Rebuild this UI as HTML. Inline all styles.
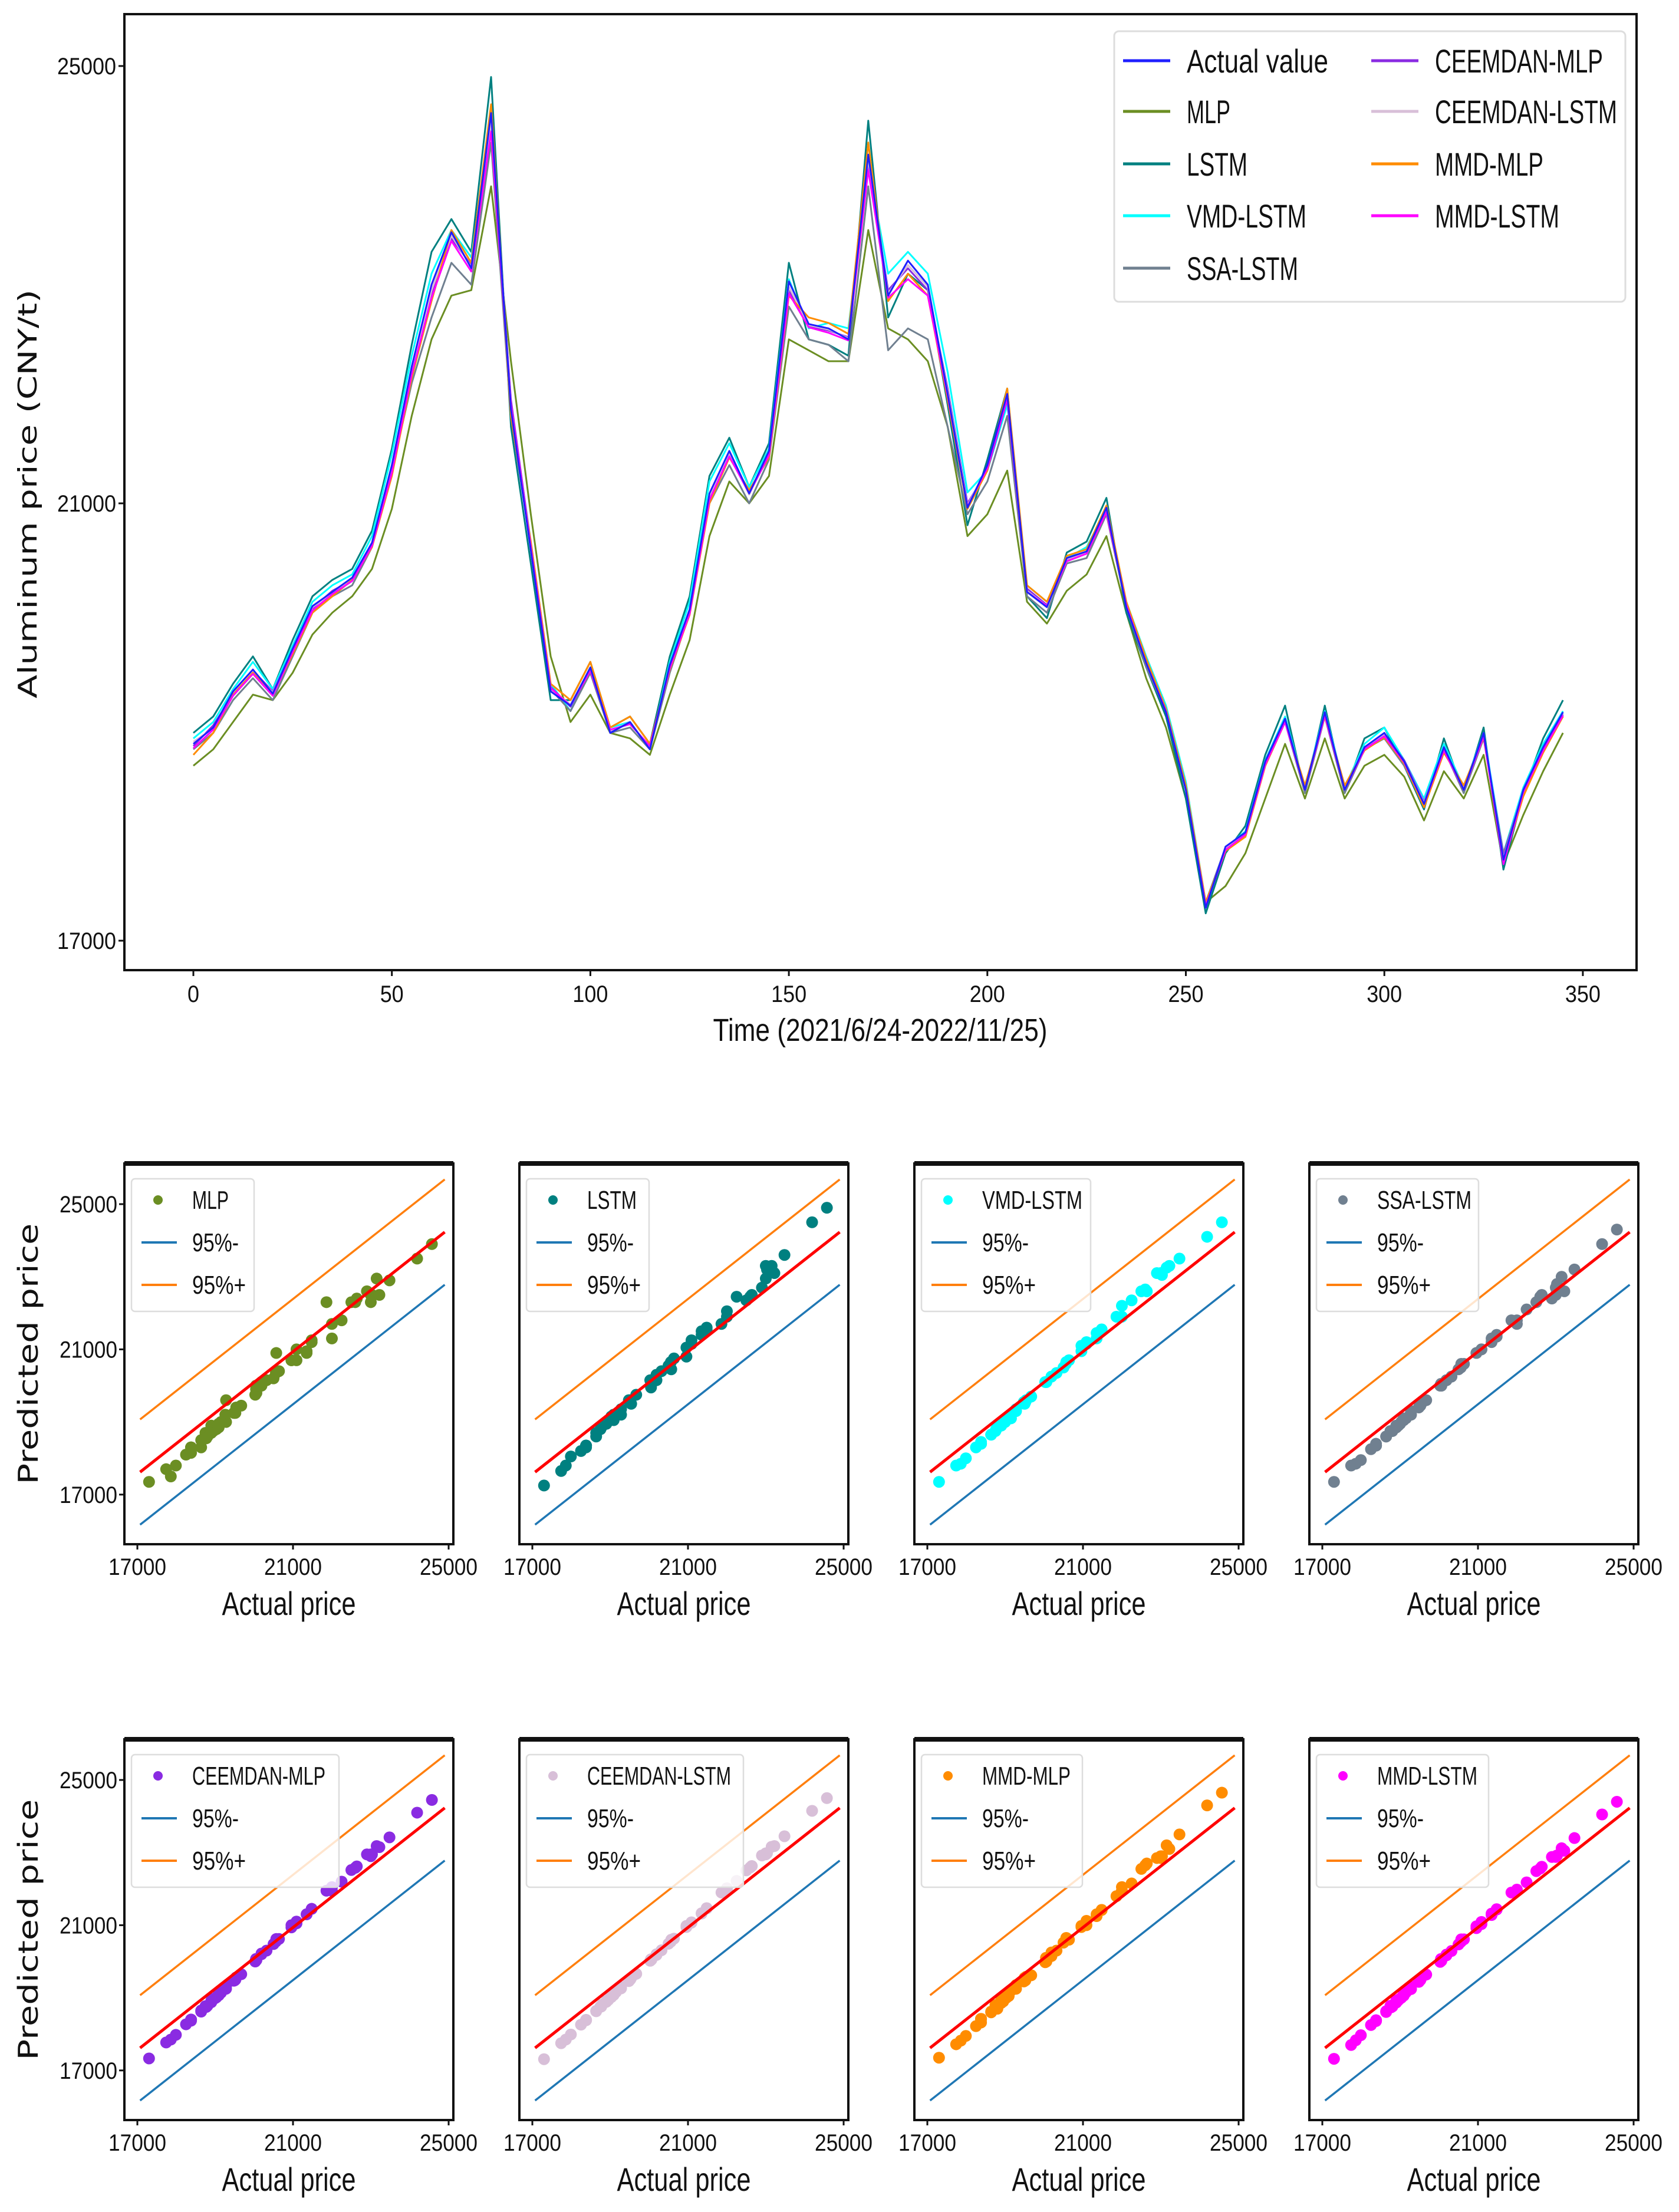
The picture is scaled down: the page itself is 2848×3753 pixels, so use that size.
<!DOCTYPE html>
<html><head><meta charset="utf-8"><style>
html,body{margin:0;padding:0;background:#fff;}
svg{display:block;}
text{font-family:"Liberation Sans Narrow","Liberation Sans",sans-serif;fill:#111;}
</style></head><body>
<svg id="fig" xmlns="http://www.w3.org/2000/svg" width="2848" height="3753" viewBox="0 0 2848 3753"></svg>
<script>
// ---------- data ----------
const timeStepActual = 5;
const actualValues = [18800,18950,19280,19480,19260,19670,20060,20190,20320,20640,21350,22250,23000,23480,23150,24570,21860,20570,19280,19150,19500,18900,19000,18750,19520,20030,21090,21480,21090,21480,23030,22640,22600,22500,24190,22900,23220,23000,22000,20960,21350,22000,20190,20050,20500,20560,20960,20050,19540,19090,18380,17300,17860,17990,18640,19030,18380,19090,18380,18770,18900,18640,18250,18770,18380,18900,17740,18380,18770,19090];
const timeStepModel = 5;
const mlpValues = [18600,18750,19000,19250,19200,19450,19800,20000,20150,20400,20950,21800,22500,22900,22950,23900,22300,20900,19600,19000,19250,18900,18850,18700,19250,19750,20700,21200,21000,21250,22500,22400,22300,22300,23500,22600,22500,22300,21700,20700,20900,21300,20100,19900,20200,20350,20700,20000,19400,18950,18300,17350,17500,17800,18300,18800,18300,18850,18300,18600,18700,18500,18100,18550,18300,18700,17700,18150,18550,18900];
const lstmValues = [18900,19050,19350,19600,19300,19750,20150,20300,20400,20750,21500,22450,23300,23600,23300,24900,21700,20450,19200,19200,19550,18950,19050,18800,19600,20150,21250,21600,21150,21550,23200,22500,22450,22350,24500,22700,23100,22950,21900,20800,21400,22050,20150,19950,20550,20650,21050,20000,19500,19050,18300,17250,17800,18050,18700,19150,18350,19150,18350,18850,18950,18600,18200,18850,18350,18950,17650,18350,18850,19200];
const vmdLstmValues = [18850,19000,19300,19550,19300,19700,20100,20250,20350,20700,21450,22350,23100,23500,23250,24500,21900,20650,19350,19100,19500,18950,19000,18750,19550,20100,21200,21550,21150,21500,23050,22600,22650,22600,24100,23100,23300,23100,22200,21100,21300,21900,20250,20100,20500,20600,20950,20100,19600,19150,18450,17350,17850,18000,18650,19050,18400,19100,18400,18800,18950,18650,18300,18800,18400,18900,17800,18400,18800,19100];
const ssaLstmValues = [18750,18900,19200,19400,19200,19600,20000,20150,20250,20600,21300,22100,22700,23200,23000,24300,21800,20600,19300,19100,19450,18900,18950,18750,19450,20000,21000,21350,21000,21400,22800,22500,22450,22300,23900,22400,22600,22500,21700,20900,21200,21800,20150,20000,20450,20500,20900,20050,19500,19100,18400,17350,17850,17950,18600,19000,18350,19050,18350,18750,18850,18600,18250,18750,18350,18850,17800,18350,18750,19050];
const ceemdanMlpValues = [18780,18970,19250,19470,19280,19650,20040,20200,20300,20620,21300,22200,22900,23420,23180,24450,21950,20620,19320,19140,19480,18920,18990,18770,19500,20000,21050,21450,21100,21450,22950,22620,22580,22520,24100,22950,23150,22950,22050,21000,21300,21950,20220,20070,20480,20550,20940,20070,19560,19110,18400,17330,17850,17980,18620,19010,18400,19070,18400,18760,18880,18650,18270,18750,18400,18880,17770,18370,18750,19070];
const ceemdanLstmValues = [18820,18940,19260,19460,19270,19660,20050,20180,20310,20630,21320,22220,22950,23450,23160,24500,21900,20600,19300,19160,19490,18910,19000,18760,19510,20020,21070,21460,21080,21470,22980,22630,22590,22510,24150,22920,23180,22980,22020,20980,21330,21970,20200,20060,20490,20550,20950,20060,19550,19100,18390,17310,17850,17990,18630,19020,18390,19080,18390,18770,18890,18640,18260,18760,18390,18890,17750,18380,18760,19080];
const mmdMlpValues = [18700,18900,19250,19450,19250,19620,20000,20150,20300,20600,21250,22150,22850,23500,23200,24650,21800,20650,19350,19200,19550,18950,19050,18800,19480,19980,21000,21420,21120,21420,22900,22700,22650,22550,24300,22850,23100,22900,21950,20950,21300,22050,20250,20100,20520,20580,20980,20100,19580,19120,18420,17350,17820,17950,18600,19000,18420,19050,18420,18740,18860,18620,18220,18720,18420,18860,17720,18320,18720,19050];
const mmdLstmValues = [18760,18930,19240,19440,19240,19640,20020,20170,20290,20610,21280,22180,22880,23400,23120,24400,21900,20610,19310,19150,19470,18930,18980,18780,19490,19990,21030,21430,21090,21440,22920,22610,22560,22490,24050,22880,23050,22900,21980,20970,21320,21960,20190,20060,20470,20540,20920,20070,19540,19100,18380,17320,17830,17970,18610,19000,18380,19060,18380,18750,18870,18630,18250,18740,18380,18870,17700,18360,18740,19060];
const topYTicks = [17000,21000,25000];
const topXTicks = [0,50,100,150,200,250,300,350];
const scatterTicks = [17000,21000,25000];
const fitLineX = [17070,24900];
const fitLineY = [17620,24230];
const bandOffset = [1450];

const models = [
 {name:'MLP',vals:mlpValues,color:'#6b8e23',lw:208,tw:62},
 {name:'LSTM',vals:lstmValues,color:'#008080',lw:208,tw:84},
 {name:'VMD-LSTM',vals:vmdLstmValues,color:'#00ffff',lw:287,tw:170},
 {name:'SSA-LSTM',vals:ssaLstmValues,color:'#708090',lw:275,tw:160},
 {name:'CEEMDAN-MLP',vals:ceemdanMlpValues,color:'#8a2be2',lw:352,tw:226},
 {name:'CEEMDAN-LSTM',vals:ceemdanLstmValues,color:'#d8bfd8',lw:368,tw:244},
 {name:'MMD-MLP',vals:mmdMlpValues,color:'#ff8c00',lw:273,tw:150},
 {name:'MMD-LSTM',vals:mmdLstmValues,color:'#ff00ff',lw:292,tw:170}
];

const NS='http://www.w3.org/2000/svg';
const svg=document.getElementById('fig');
function mk(tag,attrs,parent){const el=document.createElementNS(NS,tag);for(const k in attrs)el.setAttribute(k,attrs[k]);(parent||svg).appendChild(el);return el;}
function txt(s,attrs,parent){const el=mk('text',attrs,parent);el.textContent=s;return el;}

// ---------- top chart ----------
const T={l:211,r:2776,t:24,b:1646};
const xT=t=>328+t*6.734;
const yT=v=>112+(25000-v)*0.1855;
const topG=mk('g',{});


function series(vals,step,color,w,name){
  const p=vals.map((v,i)=>(i?'L':'M')+xT(i*step).toFixed(1)+','+yT(v).toFixed(1)).join(' ');
  const el=mk('path',{d:p,fill:'none',stroke:color,'stroke-width':w,'stroke-linejoin':'round'},topG);
  
  
}
models.forEach(m=>series(m.vals,timeStepModel,m.color,3,m.name.toLowerCase()+'-line'));
series(actualValues,timeStepActual,'#1f1fff',3,'actual-value-line');
const frame=mk('rect',{x:T.l,y:T.t,width:T.r-T.l,height:T.b-T.t,fill:'none',stroke:'#111','stroke-width':4},topG);


topYTicks.forEach(v=>{
  mk('line',{x1:T.l-10,x2:T.l,y1:yT(v),y2:yT(v),stroke:'#111','stroke-width':3},topG);
  const el=txt(String(v),{x:T.l-14,y:yT(v)+14,'text-anchor':'end','font-size':40,textLength:100,lengthAdjust:'spacingAndGlyphs'},topG);
  
  
});
topXTicks.forEach(v=>{
  mk('line',{x1:xT(v),x2:xT(v),y1:T.b,y2:T.b+10,stroke:'#111','stroke-width':3},topG);
  const s=String(v);
  const el=txt(s,{x:xT(v),y:1700,'text-anchor':'middle','font-size':40,textLength:s.length*20,lengthAdjust:'spacingAndGlyphs'},topG);
  
  
});
const xTitle=txt('Time (2021/6/24-2022/11/25)',{x:1493,y:1766,'text-anchor':'middle','font-size':54,textLength:567,lengthAdjust:'spacingAndGlyphs'},topG);


const yTitle=txt('Aluminum price (CNY/t)',{x:0,y:0,'text-anchor':'middle','font-size':44,textLength:694,lengthAdjust:'spacingAndGlyphs',transform:'translate(62,838) rotate(-90)',style:'font-family:"DejaVu Sans",sans-serif'},topG);


// legend
const lg=mk('g',{},topG);


mk('rect',{x:1890,y:53,width:867,height:459,rx:8,fill:'#fff','fill-opacity':0.85,stroke:'#ddd','stroke-width':3},lg);
const legEntries=[['Actual value','#1f1fff',240],['MLP','#6b8e23',74],['LSTM','#008080',103],['VMD-LSTM','#00ffff',203],['SSA-LSTM','#708090',189],['CEEMDAN-MLP','#8a2be2',285],['CEEMDAN-LSTM','#d8bfd8',309],['MMD-MLP','#ff8c00',184],['MMD-LSTM','#ff00ff',211]];
const rowsY=[103,189,278,366,455];
legEntries.forEach((en,i)=>{
  const col=i<5?0:1,row=i<5?i:i-5;
  const hx=col?2326:1905,tx=col?2434:2013,y=rowsY[row];
  const g=mk('g',{},lg);
  
  
  mk('line',{x1:hx,x2:hx+80,y1:y,y2:y,stroke:en[1],'stroke-width':5},g);
  txt(en[0],{x:tx,y:y+20,'font-size':56,textLength:en[2],lengthAdjust:'spacingAndGlyphs'},g);
});

// ---------- scatter panels ----------
const lefts=[211,881,1551,2221],tops=[1974,2951];
models.forEach((m,k)=>{
  const L=lefts[k%4],Tp=tops[Math.floor(k/4)],W=558,H=646;
  const xs=v=>L+22+(v-17000)*0.066;
  const ys=v=>Tp+69+(25000-v)*0.0616;
  const g=mk('g',{});
  
  
  m.vals.forEach((v,i)=>{
    const a=actualValues[i];
    const c=mk('circle',{cx:xs(a),cy:ys(v),r:10,fill:m.color},g);
    
    
  });
  const lines=[[0,'#ff0000',5],[bandOffset[0],'#ff7f0e',3.5],[-bandOffset[0],'#1f77b4',3.5]];
  lines.forEach(([o,c,w])=>{
    const ln=mk('line',{x1:xs(fitLineX[0]),y1:ys(fitLineY[0]+o),x2:xs(fitLineX[1]),y2:ys(fitLineY[1]+o),stroke:c,'stroke-width':w},g);
    
    
  });
  mk('rect',{x:L,y:Tp,width:W,height:H,fill:'none',stroke:'#111','stroke-width':4},g);
  mk('line',{x1:L,x2:L+W,y1:Tp,y2:Tp,stroke:'#111','stroke-width':8},g);
  scatterTicks.forEach(v=>{
    mk('line',{x1:xs(v),x2:xs(v),y1:Tp+H,y2:Tp+H+9,stroke:'#111','stroke-width':3},g);
    const t=txt(String(v),{x:xs(v),y:Tp+H+52,'text-anchor':'middle','font-size':40,textLength:98,lengthAdjust:'spacingAndGlyphs'},g);
    
    
    if(k%4===0){
      mk('line',{x1:L-9,x2:L,y1:ys(v),y2:ys(v),stroke:'#111','stroke-width':3},g);
      const t2=txt(String(v),{x:L-12,y:ys(v)+14,'text-anchor':'end','font-size':40,textLength:98,lengthAdjust:'spacingAndGlyphs'},g);
      
      
    }
  });
  const xl=txt('Actual price',{x:L+279,y:Tp+H+120,'text-anchor':'middle','font-size':56,textLength:227,lengthAdjust:'spacingAndGlyphs'},g);
  
  
  if(k%4===0){
    const yl=txt('Predicted price',{x:0,y:0,'text-anchor':'middle','font-size':46,textLength:443,lengthAdjust:'spacingAndGlyphs',transform:'translate(64,'+(Tp+323)+') rotate(-90)',style:'font-family:"DejaVu Sans",sans-serif'},g);
    
    
  }
  const lgd=mk('g',{},g);
  
  
  mk('rect',{x:L+12,y:Tp+26,width:m.lw,height:225,rx:6,fill:'#fff','fill-opacity':0.8,stroke:'#ddd','stroke-width':2.5},lgd);
  mk('circle',{cx:L+57,cy:Tp+62,r:8,fill:m.color},lgd);
  txt(m.name,{x:L+115,y:Tp+77,'font-size':44,textLength:m.tw,lengthAdjust:'spacingAndGlyphs'},lgd);
  mk('line',{x1:L+29,x2:L+89,y1:Tp+134,y2:Tp+134,stroke:'#1f77b4','stroke-width':4},lgd);
  txt('95%-',{x:L+115,y:Tp+149,'font-size':44,textLength:79,lengthAdjust:'spacingAndGlyphs'},lgd);
  mk('line',{x1:L+29,x2:L+89,y1:Tp+206,y2:Tp+206,stroke:'#ff7f0e','stroke-width':4},lgd);
  txt('95%+',{x:L+115,y:Tp+221,'font-size':44,textLength:91,lengthAdjust:'spacingAndGlyphs'},lgd);
});
</script>
</body></html>
